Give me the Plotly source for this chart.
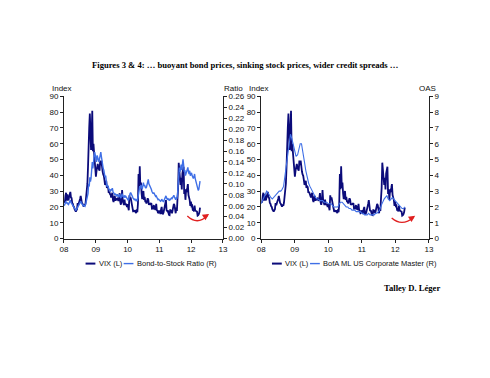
import pandas as pd
import plotly.graph_objects as go

# ---------------- data ----------------
vix_2008 = [23.2, 22.9, 27.2, 29.0, 24.0, 28.0, 25.0, 24.1, 26.5, 27.5, 29.5, 26.0, 25.7,
            22.5, 22.0, 20.5, 20.0, 18.5, 18.0, 17.0, 17.8, 18.6, 22.5, 21.0, 22.5, 23.4,
            25.0, 27.0, 24.0, 22.5, 22.0, 21.0, 20.2, 21.5, 20.7, 22.5, 25.7, 32.1, 34.7,
            45.1, 69.9, 70.3, 79.1, 59.9, 56.1, 66.3, 80.9, 55.3, 59.9, 54.3, 47.0, 43.4]
vix_2009 = [39.2, 42.8, 46.1, 47.3, 44.8, 43.4, 42.9, 49.3, 46.4, 49.3, 43.0, 42.4, 40.6,
            39.7, 36.9, 33.9, 35.4, 36.5, 32.1, 33.1, 32.6, 28.9, 29.6, 28.2, 27.9, 26.0,
            27.9, 29.0, 24.3, 23.1, 25.9, 27.0, 24.0, 25.0, 24.8, 25.3, 24.2, 23.9, 25.6,
            28.7, 23.1, 21.4, 23.6, 30.7, 24.2, 22.9, 21.2, 24.7, 21.3, 21.6, 21.6, 19.9]
vix_2010 = [21.7, 18.1, 17.9, 27.3, 24.6, 26.1, 22.7, 20.0, 19.5, 17.4, 17.6, 16.9, 17.8,
            17.0, 16.1, 18.4, 16.6, 22.0, 40.9, 31.2, 45.8, 32.1, 35.5, 28.6, 25.0, 28.4,
            30.1, 24.4, 26.3, 23.5, 23.5, 22.1, 24.1, 25.5, 24.5, 21.3, 21.9, 22.0, 21.7,
            22.5, 18.9, 19.0, 19.1, 21.2, 18.3, 20.6, 18.0, 22.0, 18.0, 17.6, 16.1, 16.5, 17.8]
vix_2011 = [17.1, 15.5, 18.5, 20.0, 15.9, 15.7, 16.4, 19.2, 19.1, 21.9, 24.3, 17.9,
            17.4, 17.9, 15.3, 15.0, 14.8, 18.4, 17.1, 17.4, 16.0, 17.9, 18.9, 21.9, 21.1,
            16.0, 16.0, 19.5, 17.5, 25.3, 32.0, 48.0, 43.0, 35.6, 33.9, 38.5, 31.0, 41.3, 43.0,
            45.5, 28.2, 31.3, 24.5, 30.2, 30.0, 32.0, 34.5, 27.5, 26.4, 24.3, 20.7, 23.4]
vix_2012 = [20.6, 20.9, 18.3, 18.5, 17.1, 20.8, 17.8, 17.3, 17.3, 17.1, 14.5, 14.8, 15.5,
            16.7, 19.6]

ratio_2008 = [0.060, 0.062, 0.066, 0.068, 0.064, 0.066, 0.063, 0.062, 0.065, 0.067, 0.070, 0.066, 0.064,
              0.062, 0.060, 0.058, 0.056, 0.055, 0.053, 0.052, 0.053, 0.055, 0.057, 0.058, 0.061, 0.064,
              0.066, 0.068, 0.065, 0.063, 0.062, 0.060, 0.061, 0.060, 0.059, 0.062, 0.066, 0.070, 0.074,
              0.082, 0.100, 0.095, 0.112, 0.104, 0.110, 0.125, 0.140, 0.128, 0.135, 0.150, 0.158, 0.152]
ratio_2009 = [0.148, 0.140, 0.152, 0.148, 0.145, 0.140, 0.146, 0.155, 0.158, 0.150, 0.140, 0.135, 0.128,
              0.125, 0.118, 0.112, 0.115, 0.100, 0.095, 0.098, 0.094, 0.090, 0.088, 0.090, 0.087, 0.088,
              0.090, 0.092, 0.086, 0.083, 0.080, 0.080, 0.082, 0.078, 0.077, 0.081, 0.078, 0.076, 0.079,
              0.080, 0.076, 0.074, 0.077, 0.082, 0.078, 0.076, 0.075, 0.079, 0.076, 0.077, 0.075, 0.072]
ratio_2010 = [0.072, 0.070, 0.071, 0.080, 0.082, 0.084, 0.080, 0.078, 0.077, 0.074, 0.072, 0.071, 0.072,
              0.070, 0.069, 0.071, 0.070, 0.074, 0.086, 0.084, 0.096, 0.092, 0.098, 0.094, 0.090, 0.096,
              0.102, 0.096, 0.098, 0.094, 0.092, 0.094, 0.100, 0.106, 0.108, 0.100, 0.098, 0.094, 0.092,
              0.090, 0.086, 0.084, 0.082, 0.084, 0.080, 0.078, 0.077, 0.078, 0.075, 0.073, 0.071, 0.072, 0.071]
ratio_2011 = [0.070, 0.068, 0.069, 0.072, 0.070, 0.068, 0.067, 0.070, 0.072, 0.075, 0.078, 0.074,
              0.072, 0.073, 0.071, 0.072, 0.070, 0.071, 0.073, 0.074, 0.073, 0.075, 0.077, 0.079, 0.076,
              0.072, 0.071, 0.074, 0.073, 0.080, 0.100, 0.125, 0.130, 0.122, 0.128, 0.135, 0.125, 0.140, 0.145,
              0.135, 0.122, 0.125, 0.115, 0.120, 0.125, 0.128, 0.130, 0.122, 0.118, 0.124, 0.115, 0.118]
ratio_2012 = [0.120, 0.115, 0.112, 0.110, 0.112, 0.118, 0.110, 0.106, 0.104, 0.100, 0.094, 0.088, 0.090,
              0.096, 0.105]

oas_2008 = [2.2, 2.4, 2.6, 2.8, 3.0, 2.9, 2.7, 2.6, 2.5, 2.6, 2.7, 2.8,
            2.9, 3.0, 3.0, 3.1, 3.3, 3.9, 4.6, 5.4, 6.2, 6.6, 6.3, 5.9]
oas_2009 = [5.4, 5.2, 5.3, 5.6, 6.0, 6.0, 5.5, 4.9, 4.3, 3.9, 3.5, 3.3,
            3.1, 2.9, 2.7, 2.6, 2.5, 2.5, 2.4, 2.4, 2.4, 2.3, 2.3, 2.3]
oas_2010 = [2.2, 2.2, 2.2, 2.1, 2.0, 2.0, 2.0, 2.0, 2.2, 2.3, 2.3, 2.2,
            2.1, 2.0, 2.0, 1.9, 1.9, 1.8, 1.8, 1.8, 1.7, 1.7, 1.7, 1.7]
oas_2011 = [1.6, 1.6, 1.5, 1.5, 1.5, 1.6, 1.5, 1.5, 1.5, 1.5, 1.6, 1.6,
            1.7, 1.8, 2.1, 2.3, 2.5, 2.6, 2.7, 2.5, 2.4, 2.5, 2.6, 2.5]
oas_2012 = [2.4, 2.3, 2.2, 2.1, 2.0, 1.9, 1.9, 2.0]

year_ticks = ["2008-01-01", "2009-01-01", "2010-01-01", "2011-01-01", "2012-01-01", "2013-01-01"]
year_labels = ["08", "09", "10", "11", "12", "13"]
left_names = ["VIX (L)", "Bond-to-Stock Ratio (R)"]
right_names = ["VIX (L)", "BofA ML US Corporate Master (R)"]

vix = vix_2008 + vix_2009 + vix_2010 + vix_2011 + vix_2012
ratio = ratio_2008 + ratio_2009 + ratio_2010 + ratio_2011 + ratio_2012
oas = oas_2008 + oas_2009 + oas_2010 + oas_2011 + oas_2012
wk = pd.date_range("2008-01-04", periods=len(vix), freq="W-FRI")
sm = pd.date_range("2008-01-01", periods=len(oas), freq="SMS")

# ---------------- styles ----------------
NAVY = "#0b0b7a"
LBLUE = "#3f6fe6"
RED = "#e02020"
SANS = "Liberation Sans, Arial, sans-serif"
SERIF = "Liberation Serif, Times New Roman, serif"
PAGE_MARGIN = 8            # default body margin of the html page
W, H = 490 - 2 * PAGE_MARGIN, 378 - 2 * PAGE_MARGIN


def px_x(p):
    return (p - PAGE_MARGIN) / W


def px_y(p):
    return 1 - (p - PAGE_MARGIN) / H


yb, yt = px_y(240.3), px_y(94.5)

fig = go.Figure()
fig.add_trace(go.Scatter(x=wk, y=vix, name=left_names[0], mode="lines",
                         line=dict(color=NAVY, width=1.8), xaxis="x", yaxis="y"))
fig.add_trace(go.Scatter(x=wk, y=ratio, name=left_names[1], mode="lines",
                         line=dict(color=LBLUE, width=1.4), xaxis="x", yaxis="y2"))
fig.add_trace(go.Scatter(x=wk, y=vix, name=right_names[0], mode="lines",
                         line=dict(color=NAVY, width=1.8), xaxis="x2", yaxis="y3"))
fig.add_trace(go.Scatter(x=sm, y=oas, name=right_names[1], mode="lines",
                         line=dict(color=LBLUE, width=1.1), xaxis="x2", yaxis="y4"))

tickfont = dict(family=SANS, size=8, color="#111")
axcommon = dict(showgrid=False, zeroline=False, showline=True, linecolor="#222", linewidth=1,
                ticks="outside", ticklen=3, tickcolor="#222", tickwidth=1, tickfont=tickfont,
                fixedrange=True)

xcommon = dict(axcommon, type="date", range=["2008-01-01", "2013-01-01"],
               tickmode="array", tickvals=year_ticks, ticktext=year_labels)

fig.update_layout(
    width=W, height=H, autosize=False,
    paper_bgcolor="white", plot_bgcolor="white",
    margin=dict(l=0, r=0, t=0, b=0),
    showlegend=False,
    xaxis=dict(xcommon, domain=[px_x(61), px_x(223)], anchor="y"),
    yaxis=dict(axcommon, domain=[yb, yt], range=[0, 90], dtick=10, anchor="x"),
    yaxis2=dict(axcommon, overlaying="y", side="right", anchor="x", range=[0, 0.26],
                dtick=0.02, tickformat=".2f"),
    xaxis2=dict(xcommon, domain=[px_x(262), px_x(433)], anchor="y3"),
    yaxis3=dict(axcommon, domain=[yb, yt], range=[0, 90], dtick=10, anchor="x2"),
    yaxis4=dict(axcommon, overlaying="y3", side="right", anchor="x2", range=[0, 9], dtick=1),
)

anns = [
    dict(text="<b>Figures 3 & 4: … buoyant bond prices, sinking stock prices, wider credit spreads …</b>",
         x=px_x(245), y=px_y(62), xref="paper", yref="paper", showarrow=False,
         font=dict(family=SERIF, size=8.6, color="#000"), xanchor="center", yanchor="middle"),
    dict(text="<b>Talley D. Léger</b>", x=px_x(446), y=px_y(291), xref="paper", yref="paper",
         showarrow=False, font=dict(family=SERIF, size=8.6, color="#000"),
         xanchor="right", yanchor="middle"),
    dict(text="Index", x=px_x(47), y=px_y(86), xref="paper", yref="paper", showarrow=False,
         font=tickfont, xanchor="left", yanchor="middle"),
    dict(text="Ratio", x=px_x(245), y=px_y(86), xref="paper", yref="paper", showarrow=False,
         font=tickfont, xanchor="right", yanchor="middle"),
    dict(text="Index", x=px_x(248), y=px_y(86), xref="paper", yref="paper", showarrow=False,
         font=tickfont, xanchor="left", yanchor="middle"),
    dict(text="OAS", x=px_x(442), y=px_y(86), xref="paper", yref="paper", showarrow=False,
         font=tickfont, xanchor="right", yanchor="middle"),
]
shapes = []

# compact legends (line key + label) under each panel
legfont = dict(family=SANS, size=7.5, color="#111")
LEG_Y = 266
for names, x_start in [(left_names, 83), (right_names, 273)]:
    x = x_start
    for name, col, wdt in zip(names, [NAVY, LBLUE], [2.0, 1.4]):
        shapes.append(dict(type="line", xref="paper", yref="paper",
                           x0=px_x(x), x1=px_x(x + 10), y0=px_y(LEG_Y), y1=px_y(LEG_Y),
                           line=dict(color=col, width=wdt)))
        anns.append(dict(text=name, x=px_x(x + 11.5), y=px_y(LEG_Y), xref="paper", yref="paper",
                         showarrow=False, font=legfont, xanchor="left", yanchor="middle"))
        x += 15 + len(name) * 3.4

# curved red arrows (hand-drawn style annotation)
for xr, yr, x0, y0, cx, cy, x1, y1 in [("x domain", "y domain", 0.776, 0.158, 0.84, 0.09, 0.905, 0.163),
                                       ("x2 domain", "y3 domain", 0.778, 0.144, 0.84, 0.08, 0.91, 0.150)]:
    shapes.append(dict(type="path", xref=xr, yref=yr,
                       path=f"M {x0},{y0} Q {cx},{cy} {x1},{y1}",
                       line=dict(color=RED, width=1.3)))
    anns.append(dict(x=x1 + 0.008, y=y1 + 0.01, xref=xr, yref=yr, text="", showarrow=True,
                     ax=-6, ay=4, arrowhead=2, arrowsize=1, arrowwidth=1.3, arrowcolor=RED))

fig.update_layout(annotations=anns, shapes=shapes)
fig.write_html("out.html")
